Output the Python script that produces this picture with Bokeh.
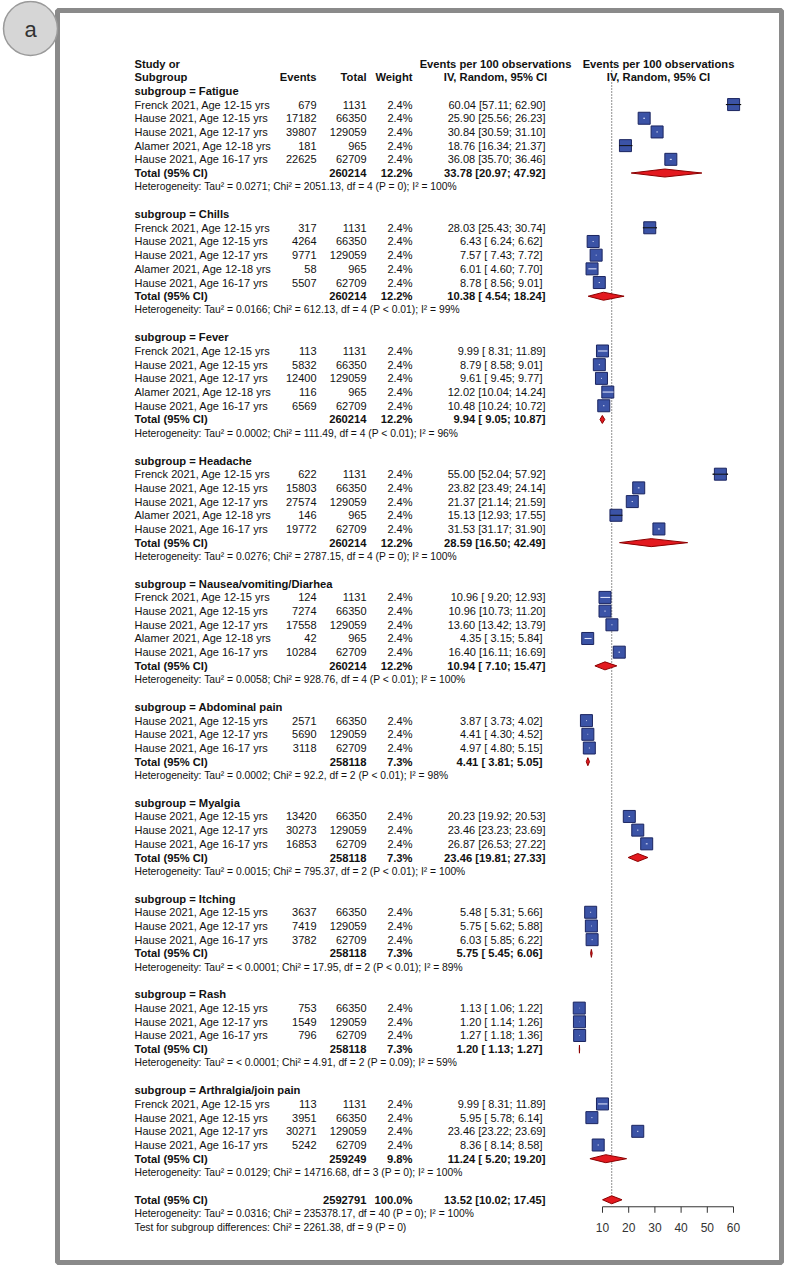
from bokeh.plotting import figure
from bokeh.models import Range1d, ColumnDataSource
from bokeh.embed import file_html
from bokeh.resources import INLINE
from bokeh.core.properties import value

# ---------------- data ----------------
group_names = ["Fatigue", "Chills", "Fever", "Headache", "Nausea/vomiting/Diarhea",
               "Abdominal pain", "Myalgia", "Itching", "Rash", "Arthralgia/join pain"]
group_sizes = [5, 5, 5, 5, 5, 3, 3, 3, 3, 4]

F = "Frenck 2021, Age 12-15 yrs"
H15 = "Hause 2021, Age 12-15 yrs"
H17 = "Hause 2021, Age 12-17 yrs"
A18 = "Alamer 2021, Age 12-18 yrs"
H1617 = "Hause 2021, Age 16-17 yrs"

study = [F, H15, H17, A18, H1617,
         F, H15, H17, A18, H1617,
         F, H15, H17, A18, H1617,
         F, H15, H17, A18, H1617,
         F, H15, H17, A18, H1617,
         H15, H17, H1617,
         H15, H17, H1617,
         H15, H17, H1617,
         H15, H17, H1617,
         F, H15, H17, H1617]
events = [679, 17182, 39807, 181, 22625,
          317, 4264, 9771, 58, 5507,
          113, 5832, 12400, 116, 6569,
          622, 15803, 27574, 146, 19772,
          124, 7274, 17558, 42, 10284,
          2571, 5690, 3118,
          13420, 30273, 16853,
          3637, 7419, 3782,
          753, 1549, 796,
          113, 3951, 30271, 5242]
totals = [1131, 66350, 129059, 965, 62709,
          1131, 66350, 129059, 965, 62709,
          1131, 66350, 129059, 965, 62709,
          1131, 66350, 129059, 965, 62709,
          1131, 66350, 129059, 965, 62709,
          66350, 129059, 62709,
          66350, 129059, 62709,
          66350, 129059, 62709,
          66350, 129059, 62709,
          1131, 66350, 129059, 62709]
weights = [2.4] * 41
est = [60.04, 25.90, 30.84, 18.76, 36.08,
       28.03, 6.43, 7.57, 6.01, 8.78,
       9.99, 8.79, 9.61, 12.02, 10.48,
       55.00, 23.82, 21.37, 15.13, 31.53,
       10.96, 10.96, 13.60, 4.35, 16.40,
       3.87, 4.41, 4.97,
       20.23, 23.46, 26.87,
       5.48, 5.75, 6.03,
       1.13, 1.20, 1.27,
       9.99, 5.95, 23.46, 8.36]
lo = [57.11, 25.56, 30.59, 16.34, 35.70,
      25.43, 6.24, 7.43, 4.60, 8.56,
      8.31, 8.58, 9.45, 10.04, 10.24,
      52.04, 23.49, 21.14, 12.93, 31.17,
      9.20, 10.73, 13.42, 3.15, 16.11,
      3.73, 4.30, 4.80,
      19.92, 23.23, 26.53,
      5.31, 5.62, 5.85,
      1.06, 1.14, 1.18,
      8.31, 5.78, 23.22, 8.14]
hi = [62.90, 26.23, 31.10, 21.37, 36.46,
      30.74, 6.62, 7.72, 7.70, 9.01,
      11.89, 9.01, 9.77, 14.24, 10.72,
      57.92, 24.14, 21.59, 17.55, 31.90,
      12.93, 11.20, 13.79, 5.84, 16.69,
      4.02, 4.52, 5.15,
      20.53, 23.69, 27.22,
      5.66, 5.88, 6.22,
      1.22, 1.26, 1.36,
      11.89, 6.14, 23.69, 8.58]

grp_n = [260214, 260214, 260214, 260214, 260214, 258118, 258118, 258118, 258118, 259249]
grp_weight = [12.2, 12.2, 12.2, 12.2, 12.2, 7.3, 7.3, 7.3, 7.3, 9.8]
grp_est = [33.78, 10.38, 9.94, 28.59, 10.94, 4.41, 23.46, 5.75, 1.20, 11.24]
grp_lo = [20.97, 4.54, 9.05, 16.50, 7.10, 3.81, 19.81, 5.45, 1.13, 5.20]
grp_hi = [47.92, 18.24, 10.87, 42.49, 15.47, 5.05, 27.33, 6.06, 1.27, 19.20]
grp_tau2 = ["0.0271", "0.0166", "0.0002", "0.0276", "0.0058", "0.0002", "0.0015", "< 0.0001", "< 0.0001", "0.0129"]
grp_chi2 = ["2051.13", "612.13", "111.49", "2787.15", "928.76", "92.2", "795.37", "17.95", "4.91", "14716.68"]
grp_df = [4, 4, 4, 4, 4, 2, 2, 2, 2, 3]
grp_p = ["P = 0", "P < 0.01", "P < 0.01", "P = 0", "P < 0.01", "P < 0.01", "P < 0.01", "P < 0.01", "P = 0.09", "P = 0"]
grp_i2 = ["100%", "99%", "96%", "100%", "100%", "98%", "100%", "89%", "59%", "100%"]

overall_n = 2592791
overall_weight = 100.0
overall_est, overall_lo, overall_hi = 13.52, 10.02, 17.45
overall_het = "Heterogeneity: Tau\u00b2 = 0.0316; Chi\u00b2 = 235378.17, df = 40 (P = 0); I\u00b2 = 100%"
subgroup_test = "Test for subgroup differences: Chi\u00b2 = 2261.38, df = 9 (P = 0)"

axis_ticks = [10, 20, 30, 40, 50, 60]

# ---------------- layout ----------------
W, Hgt = 784, 1266
FONT = "Liberation Sans"
p = figure(width=W, height=Hgt, x_range=Range1d(0, W), y_range=Range1d(Hgt, 0),
           output_backend="svg", toolbar_location=None, min_border=0,
           x_axis_location=None, y_axis_location=None)
p.grid.visible = False
p.outline_line_color = None
p.background_fill_color = "white"
p.border_fill_color = "white"

k = 131.0 / 50.0           # px per unit
x10 = 602.0                 # pixel of value 10
est_start = 10 - x10 / k
p.extra_x_ranges = {"est": Range1d(est_start, est_start + W / k)}

X_STUDY, X_EV, X_TOT, X_W, X_EST = 134, 316, 366, 412, 545
X_H1, X_H2 = 495, 658
Y0, STEP = 63.0, 13.69


def ly(i):
    return Y0 + (i - 1) * STEP


def fmt_ci(e, l, h):
    return f"{e:.2f} [{l:5.2f}; {h:5.2f}]"


normal = dict(x=[], y=[], text=[], align=[])
bold = dict(x=[], y=[], text=[], align=[])
small = dict(x=[], y=[], text=[], align=[])


def add(d, x, y, t, a="left"):
    d["x"].append(x); d["y"].append(y); d["text"].append(t); d["align"].append(a)


# header
add(bold, X_STUDY, ly(1), "Study or")
add(bold, X_STUDY, ly(2), "Subgroup")
add(bold, X_EV, ly(2), "Events", "right")
add(bold, X_TOT, ly(2), "Total", "right")
add(bold, X_W, ly(2), "Weight", "right")
for xc in (X_H1, X_H2):
    add(bold, xc, ly(1), "Events per 100 observations", "center")
    add(bold, xc, ly(2), "IV, Random, 95% CI", "center")

sq_x, sq_y = [], []
ci_x0, ci_x1, ci_y = [], [], []
in_x0, in_x1, in_y, in_col = [], [], [], []
dia_xs, dia_ys = [], []
HALF = 6.0 / k
DH = 4.0

cur = 3
idx = 0
for g, name in enumerate(group_names):
    add(bold, X_STUDY, ly(cur), f"subgroup = {name}")
    cur += 1
    for j in range(group_sizes[g]):
        y = ly(cur)
        add(normal, X_STUDY, y, study[idx])
        add(normal, X_EV, y, str(events[idx]), "right")
        add(normal, X_TOT, y, str(totals[idx]), "right")
        add(normal, X_W, y, f"{weights[idx]:.1f}%", "right")
        add(normal, X_EST, y, fmt_ci(est[idx], lo[idx], hi[idx]), "right")
        sq_x.append(est[idx]); sq_y.append(y)
        wide = (est[idx] - lo[idx] > HALF) or (hi[idx] - est[idx] > HALF)
        ci_x0.append(lo[idx]); ci_x1.append(hi[idx]); ci_y.append(y)
        in_x0.append(lo[idx]); in_x1.append(hi[idx]); in_y.append(y)
        in_col.append("#111111" if wide else "#e8ecff")
        idx += 1
        cur += 1
    y = ly(cur)
    add(bold, X_STUDY, y, "Total (95% CI)")
    add(bold, X_TOT, y, str(grp_n[g]), "right")
    add(bold, X_W, y, f"{grp_weight[g]:.1f}%", "right")
    add(bold, X_EST, y, fmt_ci(grp_est[g], grp_lo[g], grp_hi[g]), "right")
    dia_xs.append([grp_lo[g], grp_est[g], grp_hi[g], grp_est[g]])
    dia_ys.append([y, y - DH, y, y + DH])
    cur += 1
    add(small, X_STUDY, ly(cur),
        f"Heterogeneity: Tau\u00b2 = {grp_tau2[g]}; Chi\u00b2 = {grp_chi2[g]}, df = {grp_df[g]} ({grp_p[g]}); I\u00b2 = {grp_i2[g]}")
    cur += 2

y_tot = ly(cur)
add(bold, X_STUDY, y_tot, "Total (95% CI)")
add(bold, X_TOT, y_tot, str(overall_n), "right")
add(bold, X_W, y_tot, f"{overall_weight:.1f}%", "right")
add(bold, X_EST, y_tot, fmt_ci(overall_est, overall_lo, overall_hi), "right")
dia_xs.append([overall_lo, overall_est, overall_hi, overall_est])
dia_ys.append([y_tot, y_tot - DH, y_tot, y_tot + DH])
add(small, X_STUDY, ly(cur + 1), overall_het)
add(small, X_STUDY, ly(cur + 2), subgroup_test)

# frame border
p.quad(left=[57], right=[781], top=[10], bottom=[1262], fill_color=None,
       line_color="#8a8a8a", line_width=5)

# panel badge
p.scatter(x=[30], y=[28], size=54, marker="circle", fill_color="#d6d6d6",
          line_color="#9a9a9a", line_width=1.5)
p.text(x=[30], y=[29], text=["a"], text_align="center", text_baseline="middle",
       text_font=value(FONT), text_font_size="22px", text_color="#333333")

# text columns
for d, style, size in ((normal, "normal", "11px"), (bold, "bold", "11.2px"), (small, "normal", "10.3px")):
    src = ColumnDataSource(d)
    p.text(x="x", y="y", text="text", text_align="align", source=src,
           text_baseline="middle", text_font=value(FONT), text_font_size=size,
           text_font_style=style, text_color="#111111")

# dotted line at overall estimate
p.segment(x0=[overall_est], x1=[overall_est], y0=[70], y1=[y_tot - DH],
          x_range_name="est", line_color="#222222", line_width=1, line_dash="1 2")

# CI lines
p.segment(x0=ci_x0, x1=ci_x1, y0=ci_y, y1=ci_y, x_range_name="est",
          line_color="#111111", line_width=1)
# squares
p.scatter(x=sq_x, y=sq_y, size=12, marker="square", x_range_name="est",
          fill_color="#3b53a6", line_color="#1b2560", line_width=1)
# CI drawn over squares
src_in = ColumnDataSource(dict(x0=in_x0, x1=in_x1, y=in_y, c=in_col))
p.segment(x0="x0", x1="x1", y0="y", y1="y", source=src_in, x_range_name="est",
          line_color="c", line_width=1)

# diamonds
p.patches(xs=dia_xs, ys=dia_ys, x_range_name="est", fill_color="#e3191f",
          line_color="#8b0000", line_width=1)

# x axis (drawn on the estimate scale)
ax_y = y_tot + 7
p.segment(x0=[axis_ticks[0]], x1=[axis_ticks[-1]], y0=[ax_y], y1=[ax_y],
          x_range_name="est", line_color="#333333", line_width=1)
p.segment(x0=axis_ticks, x1=axis_ticks, y0=[ax_y] * len(axis_ticks),
          y1=[ax_y + 6] * len(axis_ticks), x_range_name="est",
          line_color="#333333", line_width=1)
p.text(x=axis_ticks, y=[ly(cur + 2)] * len(axis_ticks), text=[str(t) for t in axis_ticks],
       x_range_name="est", text_align="center", text_baseline="middle",
       text_font=value(FONT), text_font_size="12px", text_color="#333333")

open("out.html", "w").write(file_html(p, INLINE))
